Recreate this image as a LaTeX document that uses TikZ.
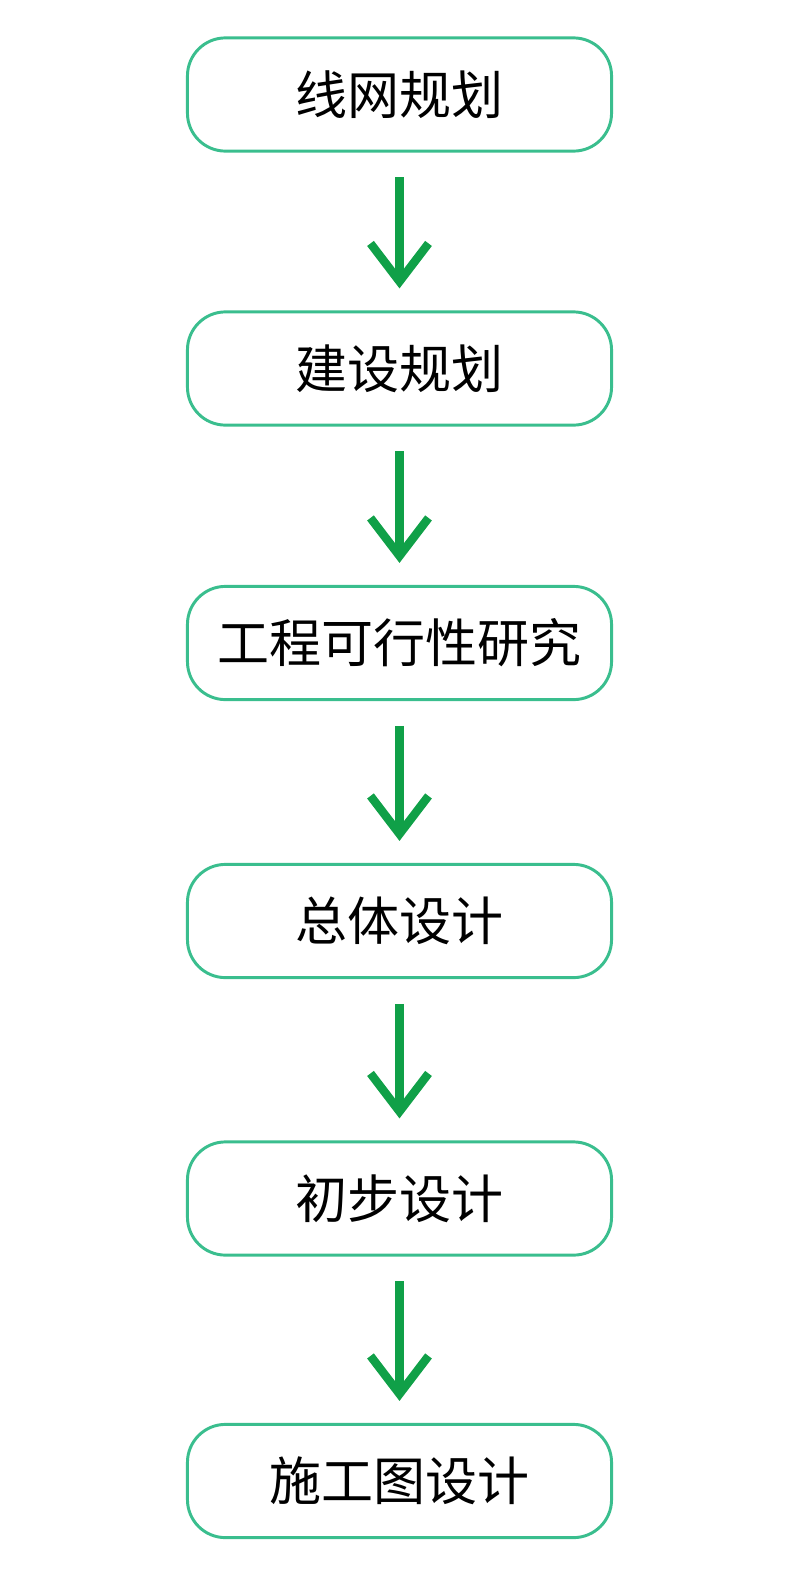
\documentclass[tikz,border=0pt]{standalone}
\usepackage{fontspec}
\newfontfamily\cjk{Noto Sans CJK SC}
\usetikzlibrary{arrows.meta}
\definecolor{boxline}{RGB}{58,190,142}
\definecolor{arrowgreen}{RGB}{16,160,72}
\tikzset{
  stage/.style={draw=boxline, line width=2.1pt, rectangle, rounded corners=0.95cm,
    minimum width=10.6cm, minimum height=2.83cm, fill=white,
    font=\cjk\fontsize{37}{42}\selectfont, text=black},
  flow/.style={draw=arrowgreen, line width=6pt,
    -{Straight Barb[length=0.95cm, width=1.45cm, line width=6pt]},
    shorten <=0.62cm, shorten >=0.55cm}
}
\begin{document}
\begin{tikzpicture}[x=0.025cm, y=-0.025cm]
        \useasboundingbox (0,0) rectangle (800,1572);
        % Planning
        \node[stage] (net) at (399.5, 94.5) {线网规划};
        \node[stage] (build) at (399.5, 368.5) {建设规划};
        % Study
        \node[stage] (study) at (399.5, 643) {工程可行性研究};
        % Design
        \node[stage] (overall) at (399.5, 921) {总体设计};
        \node[stage] (prelim) at (399.5, 1198.5) {初步设计};
        \node[stage] (constr) at (399.5, 1481) {施工图设计};
        
        % Arrows
        \draw[flow] (net) -- (build);
        \draw[flow] (build) -- (study);
        \draw[flow] (study) -- (overall);
        \draw[flow] (overall) -- (prelim);
        \draw[flow] (prelim) -- (constr);
    \end{tikzpicture}
\end{document}
